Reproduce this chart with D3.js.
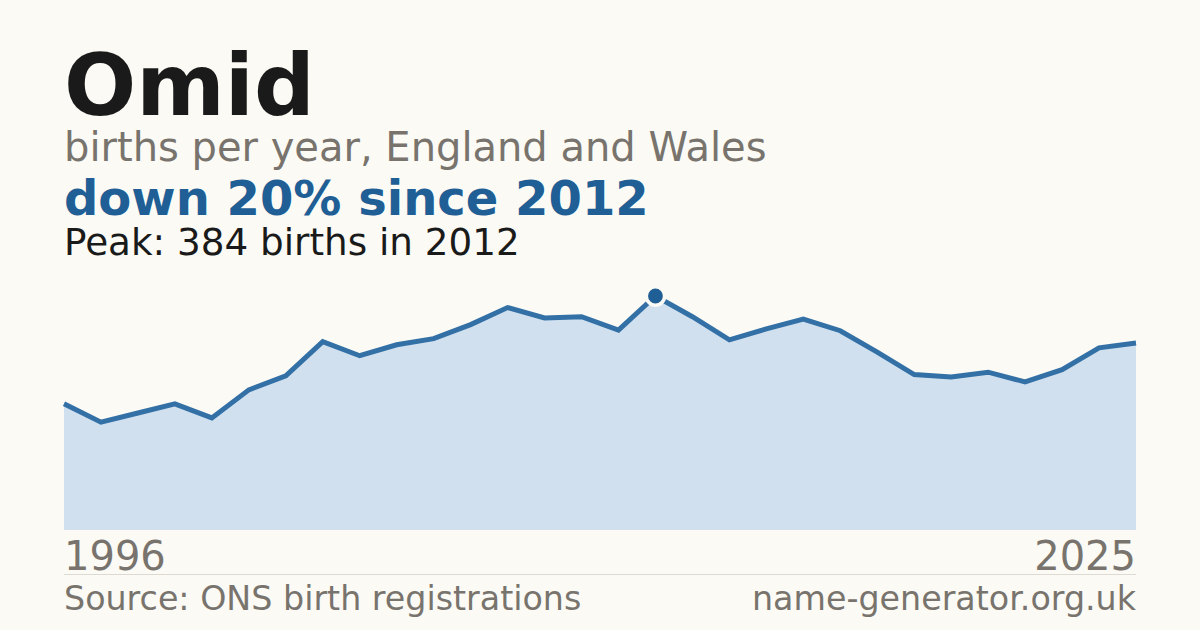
<!DOCTYPE html>
<html><head><meta charset="utf-8">
<script src="https://cdn.jsdelivr.net/npm/d3@7/dist/d3.min.js"></script>
<style>
html,body{margin:0;padding:0;background:#fbfaf5;}
svg{display:block;font-family:"DejaVu Sans",sans-serif;}
</style></head>
<body>
<svg id="c" width="1200" height="630"></svg>
<script>
const years = [1996,1997,1998,1999,2000,2001,2002,2003,2004,2005,2006,2007,2008,2009,2010,2011,2012,2013,2014,2015,2016,2017,2018,2019,2020,2021,2022,2023,2024,2025];
const births = [207,177,192,207,184,230,253,309,286,304,314,337,365,348,350,328,384,350,312,330,346,327,292,255,251,259,243,263,299,307];
const titleText = "Omid";
const subtitleText = "births per year, England and Wales";
const headlineText = "down 20% since 2012";
const peakText = "Peak: 384 births in 2012";
const sourceText = "Source: ONS birth registrations";
const siteText = "name-generator.org.uk";

const svg = d3.select("#c");
const W = 1200, H = 630;
svg.append("rect").attr("width",W).attr("height",H).attr("fill","#fbfaf5");

const x0 = 64, x1 = 1136, yBase = 530;
const peakVal = d3.max(births);
const x = d3.scaleLinear().domain([years[0], years[years.length-1]]).range([x0, x1]);
const y = d3.scaleLinear().domain([0, peakVal]).range([yBase, 296]);

const data = years.map((yr,i)=>({yr, v: births[i]}));

svg.append("path").datum(data)
  .attr("fill","#d0e0ef")
  .attr("d", d3.area().x(d=>x(d.yr)).y0(yBase).y1(d=>y(d.v)));

svg.append("path").datum(data)
  .attr("fill","none").attr("stroke","#3270a6").attr("stroke-width",5)
  .attr("stroke-linejoin","miter")
  .attr("d", d3.line().x(d=>x(d.yr)).y(d=>y(d.v)));

const pi = births.indexOf(peakVal);
svg.append("circle").attr("cx",x(years[pi])).attr("cy",y(peakVal)).attr("r",9.2)
  .attr("fill","#1f5f96").attr("stroke","#fbfaf5").attr("stroke-width",3.6);

// texts
svg.append("text").attr("x",64).attr("y",115).attr("font-size",85).attr("font-weight","bold")
  .attr("fill","#1a1a1a").text(titleText);
svg.append("text").attr("x",64).attr("y",161).attr("font-size",40)
  .attr("fill","#78746d").text(subtitleText);
svg.append("text").attr("x",64).attr("y",215).attr("font-size",48).attr("font-weight","bold")
  .attr("fill","#1f5f96").text(headlineText);
svg.append("text").attr("x",64).attr("y",255).attr("font-size",37.3)
  .attr("fill","#1a1a1a").text(peakText);

svg.append("text").attr("x",64).attr("y",570).attr("font-size",40)
  .attr("fill","#78746d").text(years[0]);
svg.append("text").attr("x",1136).attr("y",570).attr("font-size",40).attr("text-anchor","end")
  .attr("fill","#78746d").text(years[years.length-1]);

svg.append("line").attr("x1",64).attr("x2",1136).attr("y1",574.5).attr("y2",574.5)
  .attr("stroke","#dcdad3").attr("stroke-width",1);

svg.append("text").attr("x",64).attr("y",610).attr("font-size",33.3)
  .attr("fill","#78746d").text(sourceText);
svg.append("text").attr("x",1136).attr("y",610).attr("font-size",33.3).attr("text-anchor","end")
  .attr("fill","#78746d").text(siteText);
</script>
</body></html>
